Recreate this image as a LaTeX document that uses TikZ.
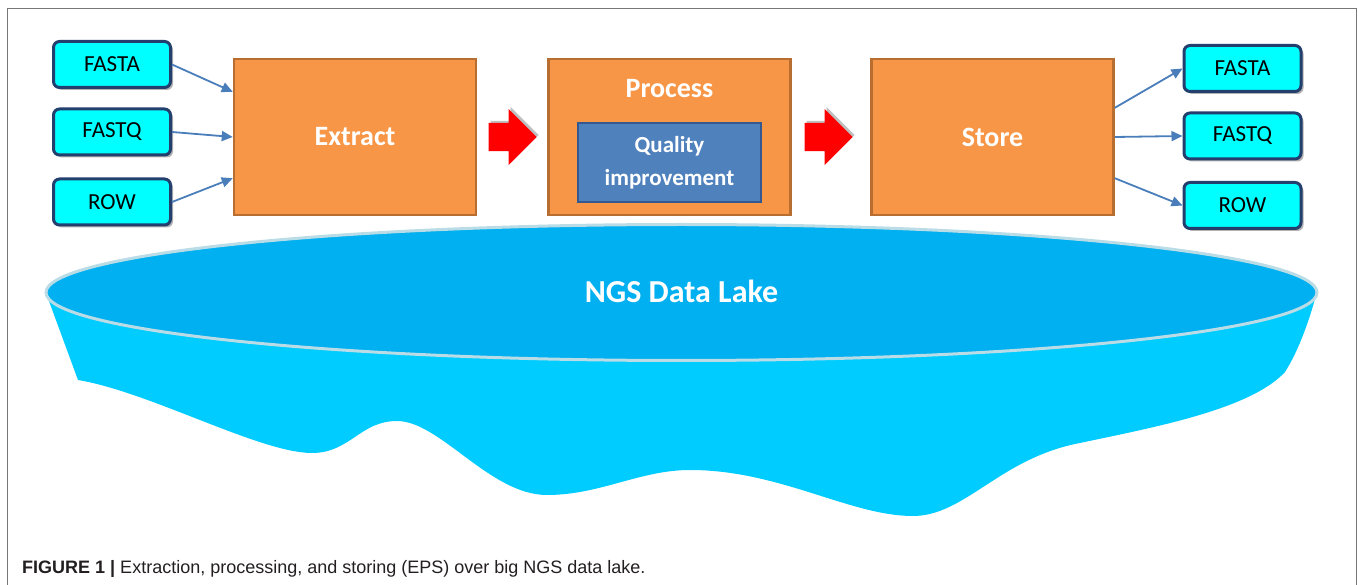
\documentclass[tikz,border=0pt]{standalone}
\usepackage{fontspec}
\usetikzlibrary{calc,shapes.arrows,shadows,arrows.meta}
\newfontfamily\calfont{Carlito}
\newfontfamily\capfont{Liberation Sans}
\definecolor{boxcyan}{HTML}{00FFFF}
\definecolor{boxnavy}{HTML}{223F6E}
\definecolor{orfill}{HTML}{F79646}
\definecolor{ordraw}{HTML}{B86E30}
\definecolor{qfill}{HTML}{4F81BD}
\definecolor{qdraw}{HTML}{35598F}
\definecolor{conncol}{HTML}{4A7EBB}
\definecolor{laketop}{HTML}{00B0F0}
\definecolor{lakebody}{HTML}{00CCFF}
\definecolor{lakerim}{HTML}{B9DCE6}
\definecolor{framecol}{HTML}{777777}
\definecolor{capcol}{HTML}{231F20}
\begin{document}
\begin{tikzpicture}[x=1pt,y=-1pt,
  fmtbox/.style={rectangle, rounded corners=6pt, draw=boxnavy, line width=3pt, fill=boxcyan,
    minimum width=117pt, minimum height=46pt, inner sep=0pt,
    font=\calfont\fontsize{23}{27}\selectfont, text=black,
    drop shadow={shadow xshift=2.5pt, shadow yshift=-2.5pt, opacity=.3, fill=black}},
  stagebox/.style={rectangle, draw=ordraw, line width=2.5pt, fill=orfill,
    minimum width=242pt, minimum height=156pt, inner sep=0pt,
    font=\calfont\bfseries\fontsize{28}{32}\selectfont, text=white},
  qualbox/.style={rectangle, draw=qdraw, line width=2.5pt, fill=qfill,
    minimum width=183pt, minimum height=79pt, inner sep=0pt, align=center,
    font=\calfont\bfseries\fontsize{23}{33}\selectfont, text=white},
  redarrow/.style={single arrow, fill=red, draw=none, minimum height=48pt,
    inner xsep=0pt, inner ysep=14pt, single arrow head extend=14pt, text width=0pt,
    anchor=tip,
    drop shadow={shadow xshift=2pt, shadow yshift=2pt, opacity=.25, fill=black}},
  conn/.style={draw=conncol, line width=1.8pt, -{Triangle[length=11pt,width=10pt]}},
  lbl/.style={inner sep=0pt}
]
\useasboundingbox (0,0) rectangle (1358,585);
% frame
\draw[framecol, line width=1.5pt] (7.5,585) -- (7.5,8.5) -- (1356.5,8.5) -- (1356.5,585);

% lake body
\fill[lakebody] (46,293) -- (78,380)
  .. controls (150,392) and (260,453) .. (312,453)
  .. controls (350,453) and (360,421) .. (397,421)
  .. controls (440,421) and (490,495) .. (547,495)
  .. controls (600,495) and (640,470) .. (690,470)
  .. controls (780,470) and (850,516) .. (913,516)
  .. controls (965,516) and (1000,458) .. (1080,443)
  .. controls (1150,428) and (1250,410) .. (1285,372)
  .. controls (1302,345) and (1312,310) .. (1317,292)
  -- (681,292) -- cycle;
% lake surface
\draw[lakerim, line width=3pt, fill=laketop] (681.5,292.5) ellipse [x radius=635.5pt, y radius=68pt];
\node[lbl, font=\calfont\bfseries\fontsize{32}{36}\selectfont, text=white] (lake) at (681.5,291) {NGS Data Lake};

% inputs
\node[fmtbox] (in1) at (112,64.5) {FASTA};
\node[fmtbox] (in2) at (112,132) {FASTQ};
\node[fmtbox] (in3) at (112,202) {ROW};
% outputs
\node[fmtbox] (out1) at (1242.5,68.5) {FASTA};
\node[fmtbox] (out2) at (1242.5,136) {FASTQ};
\node[fmtbox] (out3) at (1242.5,205.5) {ROW};

% stages
\node[stagebox] (extract) at (355,137) {Extract};
\node[stagebox] (process) at (669.5,137) {};
\node[lbl, font=\calfont\bfseries\fontsize{28}{32}\selectfont, text=white] (ptitle) at (669.5,89) {Process};
\node[qualbox] (quality) at (669.5,162.5) {Quality\\improvement};
\node[stagebox] (store) at (992.5,137) {Store};

% red block arrows
\node[redarrow] (ra1) at (537,137) {};
\node[redarrow] (ra2) at (853,137) {};

% connectors
\draw[conn] (in1.east) -- ($(extract.north west)!0.215!(extract.south west)$);
\draw[conn] (in2.east) -- ($(extract.north west)!0.5!(extract.south west)$);
\draw[conn] (in3.east) -- ($(extract.north west)!0.76!(extract.south west)$);
\draw[conn] ($(store.north east)!0.316!(store.south east)$) -- (out1.west);
\draw[conn] ($(store.north east)!0.5!(store.south east)$) -- (out2.west);
\draw[conn] ($(store.north east)!0.76!(store.south east)$) -- (out3.west);

% caption
\node[anchor=base west, inner sep=0pt, text=capcol, font=\capfont\fontsize{18}{20}\selectfont] (cap) at (22,573)
  {\textbf{FIGURE 1 |} Extraction, processing, and storing (EPS) over big NGS data lake.};
\end{tikzpicture}
\end{document}
